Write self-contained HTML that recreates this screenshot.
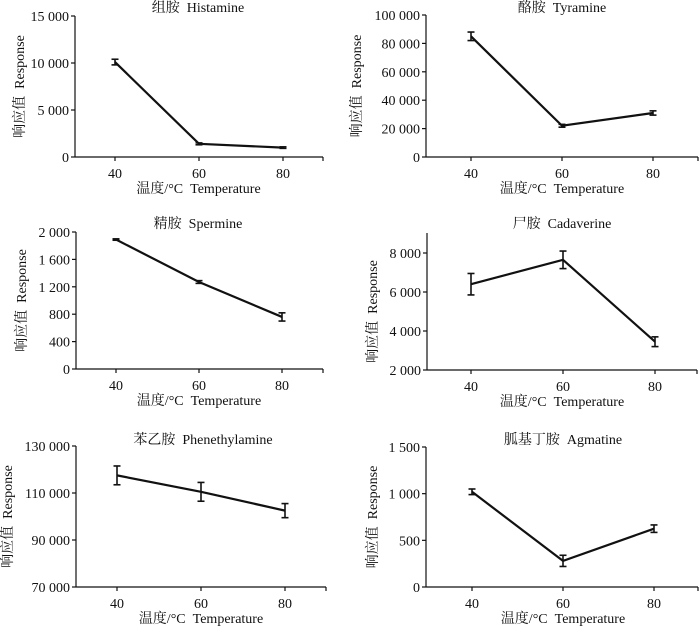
<!DOCTYPE html>
<html><head><meta charset="utf-8">
<style>
html,body{margin:0;padding:0;background:#fff;}
svg{display:block;}
text{font-family:"Liberation Serif","Noto Serif CJK SC",serif;fill:#111;font-size:14px;white-space:pre;}
</style></head>
<body>
<svg id="chart" width="700" height="628" viewBox="0 0 700 628"></svg>
<script>
// Shared data
const temperatures = [40, 60, 80];
const xTickLabels = ["40", "60", "80"];

const histamineValues = [10100, 1400, 1000];
const histamineErrors = [300, 100, 80];
const histamineTicks = [0, 5000, 10000, 15000];

const tyramineValues = [85000, 22000, 31000];
const tyramineErrors = [3000, 1000, 1500];
const tyramineTicks = [0, 20000, 40000, 60000, 80000, 100000];

const spermineValues = [1890, 1270, 760];
const spermineErrors = [10, 20, 60];
const spermineTicks = [0, 400, 800, 1200, 1600, 2000];

const cadaverineValues = [6400, 7650, 3450];
const cadaverineErrors = [550, 450, 250];
const cadaverineTicks = [2000, 4000, 6000, 8000];

const phenethylValues = [117500, 110500, 102500];
const phenethylErrors = [4000, 4000, 3000];
const phenethylTicks = [70000, 90000, 110000, 130000];

const agmatineValues = [1020, 280, 625];
const agmatineErrors = [30, 60, 40];
const agmatineTicks = [0, 500, 1000, 1500];

const NS = "http://www.w3.org/2000/svg";
const svg = document.getElementById("chart");
function mk(tag, attrs, parent){
  const e = document.createElementNS(NS, tag);
  for (const k in attrs) e.setAttribute(k, attrs[k]);
  (parent||svg).appendChild(e);
  return e;
}
function fmt(v){
  const s = String(v);
  if (s.length <= 3) return s;
  return s.slice(0, s.length-3) + " " + s.slice(-3);
}
function panel(cfg){
  const g = mk("g", {});
  
  
  const x0 = cfg.ax, y0 = cfg.ay, xEnd = cfg.axEnd;
  const yScale = v => y0 - (v - cfg.ymin) / (cfg.ymaxv - cfg.ymin) * (y0 - cfg.ytop);
  const xScale = t => cfg.px[0] + (t - 40) / 20 * ((cfg.px[1] - cfg.px[0]));
  const ya = mk("line", {x1:x0, y1:cfg.axTop, x2:x0, y2:y0, stroke:"#111", "stroke-width":1.2}, g);
  
  
  const xa = mk("line", {x1:x0, y1:y0, x2:xEnd, y2:y0, stroke:"#111", "stroke-width":1.2}, g);
  
  
  cfg.ticks.forEach(v => {
    const y = yScale(v);
    mk("line", {x1:x0-4, y1:y, x2:x0, y2:y, stroke:"#111", "stroke-width":1.2}, g);
    const t = mk("text", {x:x0-6, y:y+5, "text-anchor":"end"}, g);
    t.textContent = fmt(v);
    
    
  });
  temperatures.forEach((tv, i) => {
    const x = xScale(tv);
    mk("line", {x1:x, y1:y0, x2:x, y2:y0+4, stroke:"#111", "stroke-width":1.2}, g);
    const t = mk("text", {x:x, y:y0+21, "text-anchor":"middle"}, g);
    t.textContent = xTickLabels[i];
    
    
  });
  mk("line", {x1:xEnd, y1:y0, x2:xEnd, y2:y0+4, stroke:"#111", "stroke-width":1.2}, g);
  const pts = temperatures.map((tv,i) => xScale(tv) + "," + yScale(cfg.values[i])).join(" ");
  const pl = mk("polyline", {points:pts, fill:"none", stroke:"#111", "stroke-width":2.2}, g);
  
  
  temperatures.forEach((tv,i) => {
    const x = xScale(tv), v = cfg.values[i], e = cfg.errors[i];
    const yt = yScale(v+e), yb = yScale(v-e);
    const eg = mk("g", {stroke:"#111", "stroke-width":1.6}, g);
    
    
    mk("line", {x1:x, y1:yt, x2:x, y2:yb}, eg);
    mk("line", {x1:x-3.5, y1:yt, x2:x+3.5, y2:yt}, eg);
    mk("line", {x1:x-3.5, y1:yb, x2:x+3.5, y2:yb}, eg);
  });
  const title = mk("text", {x:cfg.titleX, y:cfg.titleY, "text-anchor":"middle"}, g);
  title.textContent = cfg.title;
  
  
  const xl = mk("text", {x:(cfg.px[0]+cfg.px[2])/2, y:y0+36, "text-anchor":"middle", "font-size":"15"}, g);
  xl.textContent = "温度/°C\u00a0\u00a0Temperature";
  
  
  const cy = (cfg.ytop + y0)/2;
  const yl = mk("text", {x:cfg.ylx, y:cy, "text-anchor":"middle", "font-size":"15", transform:`rotate(-90 ${cfg.ylx} ${cy})`}, g);
  yl.textContent = "响应值\u00a0\u00a0Response";
  
  
}
panel({name:"histamine", title:"组胺\u00a0\u00a0Histamine", values:histamineValues, errors:histamineErrors, ticks:histamineTicks,
  ax:75, ay:157, axTop:16, axEnd:323, ymin:0, ymaxv:15000, ytop:16, px:[115,199,282], titleX:198, titleY:12, ylx:24});
panel({name:"tyramine", title:"酪胺\u00a0\u00a0Tyramine", values:tyramineValues, errors:tyramineErrors, ticks:tyramineTicks,
  ax:426, ay:157, axTop:15, axEnd:698, ymin:0, ymaxv:100000, ytop:15, px:[471,562,653], titleX:562, titleY:12, ylx:361});
panel({name:"spermine", title:"精胺\u00a0\u00a0Spermine", values:spermineValues, errors:spermineErrors, ticks:spermineTicks,
  ax:76, ay:369, axTop:232, axEnd:323, ymin:0, ymaxv:2000, ytop:232, px:[116,199,282], titleX:198, titleY:228, ylx:26});
panel({name:"cadaverine", title:"尸胺\u00a0\u00a0Cadaverine", values:cadaverineValues, errors:cadaverineErrors, ticks:cadaverineTicks,
  ax:427, ay:370, axTop:233, axEnd:697, ymin:2000, ymaxv:8000, ytop:253, px:[471,563,653], titleX:562, titleY:228, ylx:377});
panel({name:"phenethylamine", title:"苯乙胺\u00a0\u00a0Phenethylamine", values:phenethylValues, errors:phenethylErrors, ticks:phenethylTicks,
  ax:76, ay:587, axTop:446, axEnd:326, ymin:70000, ymaxv:130000, ytop:446, px:[117,201,285], titleX:203, titleY:444, ylx:12});
panel({name:"agmatine", title:"胍基丁胺\u00a0\u00a0Agmatine", values:agmatineValues, errors:agmatineErrors, ticks:agmatineTicks,
  ax:426, ay:587, axTop:447, axEnd:698, ymin:0, ymaxv:1500, ytop:447, px:[472,563,654], titleX:563, titleY:444, ylx:377});
</script>
</body></html>
